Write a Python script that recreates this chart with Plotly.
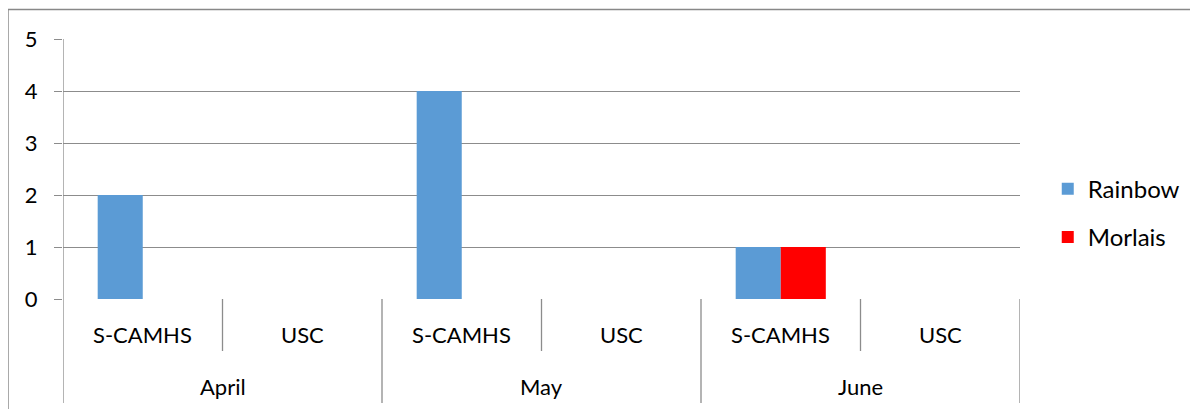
import plotly.graph_objects as go

months = ["April", "May", "June"]
services = ["S-CAMHS", "USC"]
rainbow = [2, 0, 4, 0, 1, 0]
morlais = [0, 0, 0, 0, 1, 0]
y_ticks = [0, 1, 2, 3, 4, 5]

n = len(months) * len(services)
xs = list(range(n))

FONT = "Lato"
GRID = "#8c8c8c"
FS = 22

fig = go.Figure()
fig.add_trace(go.Bar(x=xs, y=rainbow, name="Rainbow", marker=dict(color="#5b9bd5", line=dict(width=0)),
                     legendgroup="a"))
fig.add_trace(go.Bar(x=xs, y=morlais, name="Morlais", marker=dict(color="#ff0000", line=dict(width=0)),
                     legendgroup="b"))

shapes = []
annotations = []
for i in range(n):
    annotations.append(dict(x=i, y=-0.135, xref="x", yref="paper", yanchor="middle", xanchor="center",
                            text=services[i % len(services)],
                            showarrow=False, font=dict(family=FONT, size=FS, color="#000")))
for m, month in enumerate(months):
    c = m * len(services) + (len(services) - 1) / 2
    annotations.append(dict(x=c, y=-0.335, xref="x", yref="paper", yanchor="middle", xanchor="center",
                            text=month,
                            showarrow=False, font=dict(family=FONT, size=FS, color="#000")))
for b in range(n + 1):
    xb = b - 0.5
    outer = (b % len(services) == 0)
    shapes.append(dict(type="line", xref="x", yref="paper", x0=xb, x1=xb, y0=0,
                       y1=-0.4 if outer else -0.2, line=dict(color=GRID, width=1.3)))
shapes.append(dict(type="line", xref="x", yref="paper", x0=-0.5, x1=-0.5, y0=0, y1=1,
                   line=dict(color=GRID, width=1.3)))
# outer chart border (top and left)
shapes.append(dict(type="line", xref="paper", yref="paper", x0=-0.0575, x1=1.2, y0=1.1135, y1=1.1135,
                   line=dict(color="#888888", width=1.5)))
shapes.append(dict(type="line", xref="paper", yref="paper", x0=-0.0575, x1=-0.0575, y0=1.1135, y1=-0.5,
                   line=dict(color="#888888", width=1.5)))

fig.update_layout(
    width=1198, height=409,
    margin=dict(l=55, r=186, t=31, b=118),
    paper_bgcolor="white", plot_bgcolor="white",
    barmode="group", bargap=0.435, bargroupgap=0,
    showlegend=True,
    legend=dict(x=1.029, y=0.33, xanchor="left", yanchor="middle", font=dict(family=FONT, size=24, color="#000"),
                tracegroupgap=14, itemwidth=30, bgcolor="rgba(0,0,0,0)"),
    xaxis=dict(range=[-0.5, n - 0.5], showticklabels=False, showgrid=False, zeroline=False,
               showline=False, ticks=""),
    yaxis=dict(range=[0, 5], tickvals=y_ticks, showgrid=True, gridcolor=GRID, gridwidth=1.3,
               zeroline=False, showline=False, ticks="outside", ticklen=8, tickcolor=GRID, tickwidth=1.3,
               tickfont=dict(family=FONT, size=FS, color="#000"), ticklabelstandoff=12),
    shapes=shapes, annotations=annotations,
)

fig.write_html("out.html")
